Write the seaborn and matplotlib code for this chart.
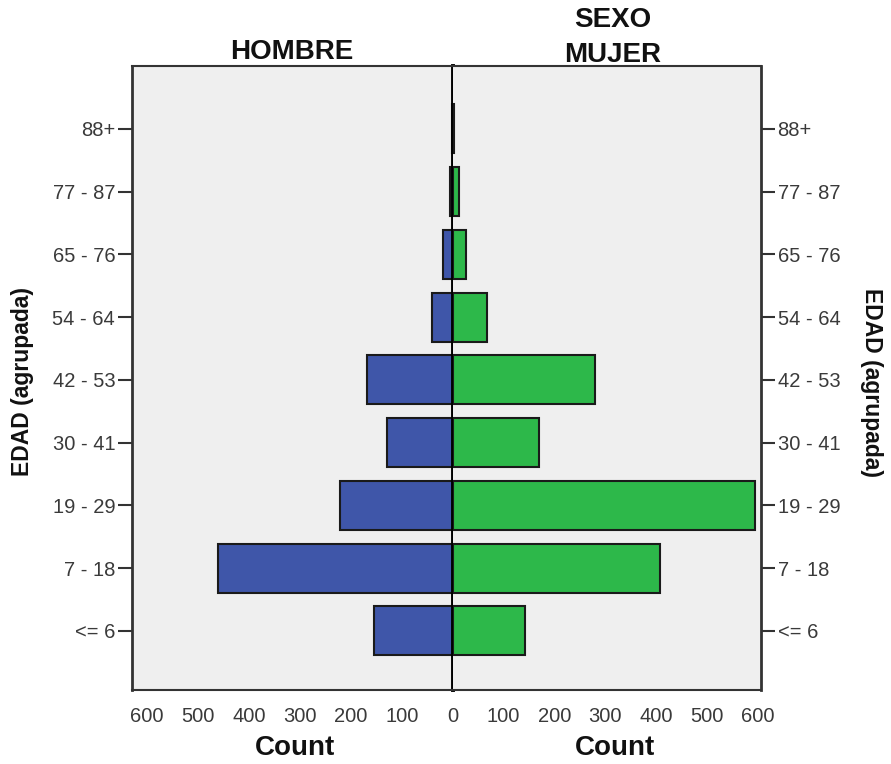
import matplotlib
matplotlib.use('Agg')
import matplotlib.pyplot as plt
import seaborn as sns
import pandas as pd

sns.set_style('white')
plt.rcParams['font.family'] = ['Liberation Sans', 'DejaVu Sans']

# age groups, top to bottom
age_groups = ['88+', '77 - 87', '65 - 76', '54 - 64', '42 - 53',
              '30 - 41', '19 - 29', '7 - 18', '<= 6']
hombre = [1, 6, 18, 41, 169, 128, 222, 461, 154]
mujer = [2, 12, 26, 67, 280, 169, 594, 407, 142]
count_ticks = [0, 100, 200, 300, 400, 500, 600]

blue = '#3f56a9'
green = '#2db84a'
panel_bg = '#efefef'
tick_col = '#3a3a3a'

df = pd.DataFrame({'edad': age_groups, 'HOMBRE': hombre, 'MUJER': mujer})

fig = plt.figure(figsize=(8.91, 7.64), dpi=100)
ax_l = fig.add_axes([0.148, 0.097, 0.360, 0.8166])
ax_r = fig.add_axes([0.508, 0.097, 0.346, 0.8166])

bar_kw = dict(orient='h', width=0.78, edgecolor='#1a1a1a', linewidth=1.5)
sns.barplot(data=df, x='HOMBRE', y='edad', order=age_groups, color=blue,
            saturation=1, ax=ax_l, **bar_kw)
sns.barplot(data=df, x='MUJER', y='edad', order=age_groups, color=green,
            saturation=1, ax=ax_r, **bar_kw)

ax_l.set_xlim(630, 0)
ax_r.set_xlim(0, 606)
for ax in (ax_l, ax_r):
    ax.set_facecolor(panel_bg)
    ax.set_ylim(8.94, -1.0)
    ax.set_xticks(count_ticks)
    ax.set_xticklabels([str(t) for t in count_ticks])
    ax.set_xlabel('')
    ax.set_ylabel('')
    ax.tick_params(axis='x', direction='out', length=8, width=2,
                   color='#333333', labelsize=14.5, labelcolor=tick_col, pad=4)
    ax.tick_params(axis='y', direction='out', length=10, width=1.5,
                   color='#333333', labelsize=14.5, labelcolor=tick_col, pad=2)
    for s in ax.spines.values():
        s.set_color('#333333')
        s.set_linewidth(1.5)
        s.set_visible(True)

# left panel: age labels on the left, thick zero line on the right
ax_l.yaxis.tick_left()
ax_l.spines['right'].set_linewidth(2.8)
ax_l.spines['right'].set_color('black')
ax_l.spines['left'].set_linewidth(2)

# right panel: age labels on the right
ax_r.yaxis.tick_right()
ax_r.yaxis.set_label_position('right')
ax_r.set_yticks(range(len(age_groups)))
ax_r.set_yticklabels(age_groups)
ax_r.spines['left'].set_visible(False)
ax_r.spines['right'].set_linewidth(2)
ax_r.xaxis.get_major_ticks()[0].label1.set_visible(False)
ax_r.xaxis.get_major_ticks()[0].tick1line.set_visible(False)

# titles and axis labels
title_kw = dict(ha='center', va='center', fontsize=20, fontweight='bold',
                color='#111111')
fig.text(0.328, 0.932, 'HOMBRE', **title_kw)
fig.text(0.688, 0.974, 'SEXO', **title_kw)
fig.text(0.688, 0.928, 'MUJER', **title_kw)
fig.text(0.331, 0.021, 'Count', **title_kw)
fig.text(0.690, 0.021, 'Count', **title_kw)
fig.text(0.025, 0.50, 'EDAD (agrupada)', ha='center', va='center',
         rotation=90, fontsize=16.5, fontweight='bold', color='#111111',
         family=['Liberation Sans Narrow', 'Liberation Sans', 'DejaVu Sans'])
fig.text(0.978, 0.50, 'EDAD (agrupada)', ha='center', va='center',
         rotation=270, fontsize=16.5, fontweight='bold', color='#111111',
         family=['Liberation Sans Narrow', 'Liberation Sans', 'DejaVu Sans'])

fig.savefig('out.png', dpi=100, facecolor='white')
